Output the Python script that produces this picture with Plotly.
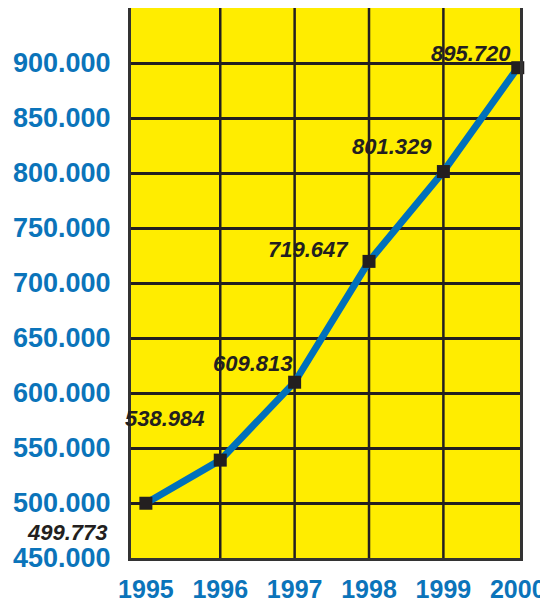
import plotly.graph_objects as go

years = [1995, 1996, 1997, 1998, 1999, 2000]
values = [499773, 538984, 609813, 719647, 801329, 895720]
y_ticks = [450000, 500000, 550000, 600000, 650000, 700000, 750000, 800000, 850000, 900000]

BLUE = "#0b74ba"
INK = "#231f20"
YELLOW = "#ffed00"
FONT = "Liberation Sans, Arial, sans-serif"


def dotted(v):
    return f"{v:,}".replace(",", ".")


fig = go.Figure()
fig.add_trace(go.Scatter(
    x=years, y=values, mode="lines+markers",
    line=dict(color="#0070bb", width=7),
    marker=dict(symbol="square", size=13, color=INK),
    cliponaxis=False, hoverinfo="skip",
))

# vertical grid only between the end years
for yr in years[1:-1]:
    fig.add_vline(x=yr, line=dict(color=INK, width=2.5), layer="below")

# label offsets (px) for each value label
shifts = [(-36, -29), (-13, 42), (0, 19), (-18, 12), (-9, 25), (-5, 14)]
for yr, v, (dx, dy) in zip(years, values, shifts):
    fig.add_annotation(
        x=yr, y=v, text=dotted(v), showarrow=False,
        xanchor="right", yanchor="middle", xshift=dx, yshift=dy,
        font=dict(family=FONT, size=22, color=INK, weight="bold", style="italic"),
    )

# the page body adds an 8px offset, so the figure is 8px smaller
fig.update_layout(
    width=540, height=595,
    margin=dict(l=123, r=28, t=0, b=45),
    paper_bgcolor="white", plot_bgcolor=YELLOW,
    showlegend=False,
    xaxis=dict(
        range=[1994.8, 2000.03], tickvals=years, ticktext=[str(y) for y in years],
        showgrid=False, zeroline=False, automargin=False,
        showline=True, mirror=True, linecolor="#333333", linewidth=3,
        ticklabelstandoff=7,
        tickfont=dict(family=FONT, size=25, color=BLUE, weight="bold"),
    ),
    yaxis=dict(
        range=[450000, 950000], tickvals=y_ticks, ticktext=[dotted(v) for v in y_ticks],
        showgrid=True, gridcolor=INK, gridwidth=2.5, zeroline=False, automargin=False,
        showline=True, mirror=True, linecolor="#333333", linewidth=3,
        ticklabelstandoff=12,
        tickfont=dict(family=FONT, size=27, color=BLUE, weight="bold"),
    ),
)

fig.write_html("out.html")
